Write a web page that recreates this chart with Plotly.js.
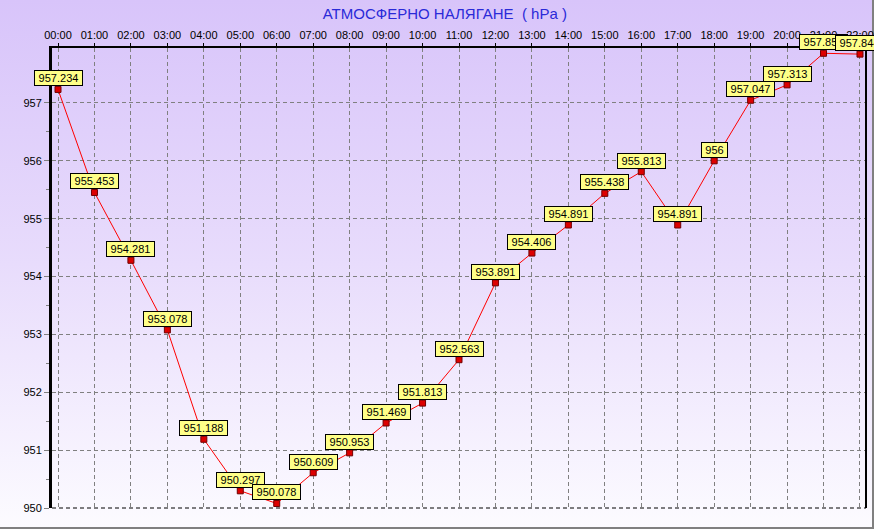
<!DOCTYPE html>
<html><head><meta charset="utf-8">
<script src="https://cdn.plot.ly/plotly-3.0.1.min.js"></script>
<style>
html,body{margin:0;padding:0;}
#wrap{width:874px;height:529px;position:relative;box-sizing:border-box;
 background:linear-gradient(to bottom,#d8c4fa 0%,#e8dcfc 50%,#fcfbff 100%);
 border-right:2px solid #808080;border-bottom:2px solid #808080;}
#chart{position:absolute;left:0;top:0;width:874px;height:529px;}
</style></head><body>
<div id="wrap"><div id="chart"></div></div>
<script>
const hours = ["00:00","01:00","02:00","03:00","04:00","05:00","06:00","07:00","08:00","09:00","10:00","11:00","12:00","13:00","14:00","15:00","16:00","17:00","18:00","19:00","20:00","21:00","22:00"];
const pressure = [957.234,955.453,954.281,953.078,951.188,950.297,950.078,950.609,950.953,951.469,951.813,952.563,953.891,954.406,954.891,955.438,955.813,954.891,956,957.047,957.313,957.859,957.844];
const yTicks = [950,951,952,953,954,955,956,957];

const xIdx = hours.map((h,i)=>i);
const fmt = v => String(+v.toFixed(3));
const textW = s => s.split('').reduce((a,c)=>a+(c==='.'?3.06:6.12),0);

const trace = {
  x: xIdx, y: pressure, type:'scatter', mode:'lines+markers',
  line:{color:'#ff0000', width:1},
  marker:{symbol:'square', size:6, color:'#dd0000', line:{color:'#700000', width:1}},
  hoverinfo:'none', cliponaxis:false
};

const annotations = pressure.map((v,i)=>{
  const t = fmt(v);
  return {
    x:i, y:v, xref:'x', yref:'y', text:t, showarrow:false,
    yanchor:'bottom', xanchor:'center', yshift:3,
    width:Math.round(textW(t)+4), height:11, align:'center', valign:'middle',
    font:{family:'Liberation Sans, Arial, sans-serif', size:11, color:'#000'},
    bgcolor:'#ffff88', bordercolor:'#000', borderwidth:1, borderpad:1.5
  };
});

const layout = {
  width:874, height:529,
  paper_bgcolor:'rgba(0,0,0,0)', plot_bgcolor:'rgba(0,0,0,0)',
  margin:{l:52, r:8, t:48, b:21, pad:0},
  showlegend:false,
  title:{text:'АТМОСФЕРНО НАЛЯГАНЕ  ( hPa )', x:0.509, xref:'container', xanchor:'center',
         y:0.974, yref:'container', yanchor:'middle',
         font:{family:'Liberation Sans, Arial, sans-serif', size:15, color:'#2a2ad8'}},
  xaxis:{
    range:[-0.165,22.165], side:'top', tickmode:'array', tickvals:xIdx, ticktext:hours,
    showgrid:true, gridcolor:'#808080', gridwidth:1, griddash:'4px,3px',
    zeroline:false, showline:true, linecolor:'#000', linewidth:2, mirror:false,
    ticks:'outside', ticklen:3, tickcolor:'#000',
    tickfont:{family:'Liberation Sans, Arial, sans-serif', size:11, color:'#000'},
    fixedrange:true
  },
  yaxis:{
    range:[950,957.95], tickmode:'array', tickvals:yTicks, ticktext:yTicks.map(String),
    showgrid:true, gridcolor:'#808080', gridwidth:1, griddash:'4px,3px',
    zeroline:false, showline:true, linecolor:'#000', linewidth:3,
    ticks:'outside', ticklen:5, tickcolor:'#808080',
    minor:{dtick:0.5, tick0:950, ticks:'outside', ticklen:3, tickcolor:'#808080', showgrid:false},
    tickfont:{family:'Liberation Sans, Arial, sans-serif', size:11, color:'#000'},
    fixedrange:true
  },
  shapes:[
    {type:'line', xref:'paper', yref:'paper', x0:1, x1:1, y0:0, y1:1, line:{color:'#000', width:2}},
    {type:'line', xref:'paper', yref:'paper', x0:0, x1:1, y0:0, y1:0, line:{color:'#000', width:1, dash:'4px,3px'}}
  ],
  annotations: annotations
};

Plotly.newPlot('chart', [trace], layout, {displayModeBar:false, staticPlot:true});
</script>
</body></html>
